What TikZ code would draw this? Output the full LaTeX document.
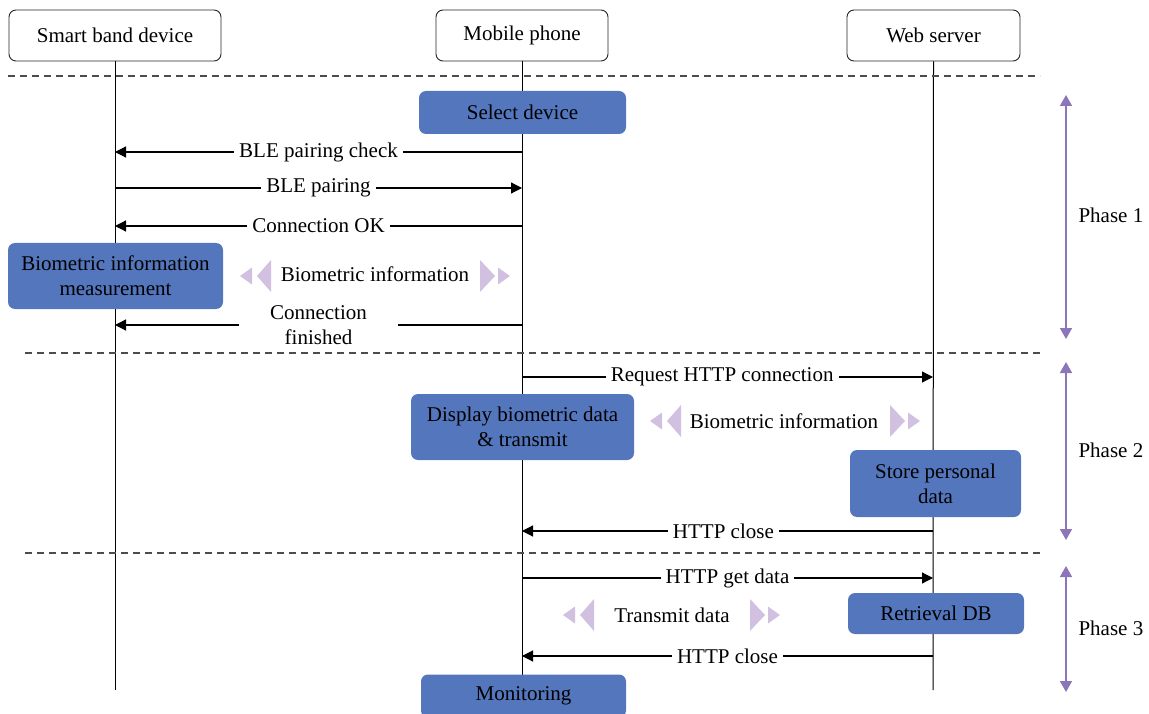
\documentclass[tikz,border=0pt]{standalone}
\usepackage{fontspec}
\setmainfont{Liberation Serif}
\usetikzlibrary{arrows.meta}

\definecolor{boxblue}{RGB}{84,118,189}
\definecolor{phasecol}{RGB}{141,117,186}
\definecolor{tricol}{RGB}{209,192,224}

\begin{document}
\begin{tikzpicture}[x=1pt,y=-1pt,
  every node/.style={font=\fontsize{21}{25}\selectfont},
  actor/.style={draw=black!85,line width=0.9pt,fill=white,rounded corners=7pt,minimum height=51pt},
  task/.style={fill=boxblue,rounded corners=7pt,align=center,inner sep=0pt},
  msg/.style={line width=1.2pt,-{Triangle[length=11pt,width=11pt]}},
  lbl/.style={fill=white,inner xsep=5pt,inner ysep=1pt,align=center},
  sep/.style={draw=black!70,line width=1.1pt,dash pattern=on 7pt off 5pt},
  phase/.style={draw=phasecol,line width=1.6pt,{Triangle[length=11pt,width=12pt]}-{Triangle[length=11pt,width=12pt]}},
  lefttri/.pic={\fill[tricol] (0,0) -- (12,-8.5) -- (12,8.5) -- cycle;
                \fill[tricol] (17,0) -- (31,-16) -- (31,16) -- cycle;},
  righttri/.pic={\fill[tricol] (0,-16) -- (15,0) -- (0,16) -- cycle;
                 \fill[tricol] (18,-8.5) -- (30,0) -- (18,8.5) -- cycle;}]
\useasboundingbox (0,0) rectangle (1149,714);

% Participants
\node[actor,minimum width=212pt] (band) at (115,35.5) {Smart band device};
\node[actor,minimum width=172pt] (phone) at (522,35.5) {Mobile phone};
\node[actor,minimum width=173pt] (server) at (933.5,35.5) {Web server};

% Lifelines
\coordinate (bandend) at (115,690);
\coordinate (phoneend) at (522,675);
\coordinate (serverend) at (933,690);
\draw[line width=1pt] (band.south) -- (bandend);
\draw[line width=1pt] (phone.south) -- (phoneend);
\draw[line width=1pt] (server.south) -- (serverend);

% Phase separators
\foreach \y/\x in {76/8,353/25,553/25} {
  \draw[sep] (\x,\y) -- (1040,\y);
}

% Phase 1
\node[task,minimum width=207pt,minimum height=43pt] (select) at (522.5,112.5) {Select device};
\coordinate (p1) at (522,152); \coordinate (b1) at (115,152);
\coordinate (b2) at (115,188); \coordinate (p2) at (522,188);
\coordinate (p3) at (522,226); \coordinate (b3) at (115,226);
\coordinate (p4) at (522,325); \coordinate (b4) at (115,325);
\draw[msg] (p1) -- (b1) node[lbl,midway] (pairchk) {BLE pairing check};
\draw[msg] (b2) -- (p2) node[lbl,midway] (pair) {BLE pairing};
\draw[msg] (p3) -- (b3) node[lbl,midway] (connok) {Connection OK};
\node[task,minimum width=215pt,minimum height=66pt] (measure) at (115.5,276) {Biometric information\\measurement};
\pic at (240,276) {lefttri};
\node (bioinfo) at (375,274) {Biometric information};
\pic at (480,276) {righttri};
\draw[msg] (p4) -- (b4) node[lbl,midway,inner xsep=31pt] (connfin) {Connection\\finished};

% Phase 2
\coordinate (p5) at (522,377); \coordinate (s5) at (933,377);
\coordinate (s6) at (933,531); \coordinate (p6) at (522,531);
\draw[msg] (p5) -- (s5) node[lbl,pos=0.487] (httpreq) {Request HTTP connection};
\node[task,minimum width=223pt,minimum height=66pt] (display) at (522.5,427) {Display biometric data\\\& transmit};
\pic at (650,421) {lefttri};
\node (bioinfo2) at (784,421) {Biometric information};
\pic at (890,421) {righttri};
\node[task,minimum width=171pt,minimum height=67pt] (store) at (935.5,483.5) {Store personal\\data};
\draw[msg] (s6) -- (p6) node[lbl,pos=0.51] (close1) {HTTP close};

% Phase 3
\coordinate (p7) at (522,578); \coordinate (s7) at (933,578);
\coordinate (s8) at (933,656); \coordinate (p8) at (522,656);
\draw[msg] (p7) -- (s7) node[lbl,midway] (getdata) {HTTP get data};
\node[task,minimum width=176pt,minimum height=41pt] (retrieve) at (936,613.5) {Retrieval DB};
\pic at (563,615) {lefttri};
\node (transmit) at (672,615) {Transmit data};
\pic at (750,615) {righttri};
\draw[msg] (s8) -- (p8) node[lbl,midway] (close2) {HTTP close};
\node[task,minimum width=205pt,minimum height=43pt] (monitor) at (523.5,696) {Monitoring};

% Phase markers
\foreach \n/\top/\bot/\mid in {1/95/339/215,2/362/540/450,3/566/692/628} {
  \coordinate (ph\n t) at (1066,\top);
  \coordinate (ph\n b) at (1066,\bot);
  \draw[phase] (ph\n t) -- (ph\n b);
  \node[anchor=west] (phase\n) at (1075,\mid) {Phase \n};
}
\end{tikzpicture}
\end{document}
